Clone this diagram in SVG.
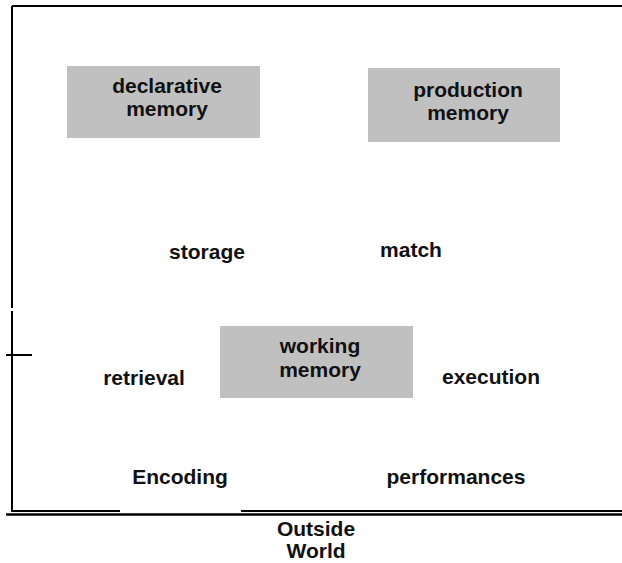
<svg xmlns="http://www.w3.org/2000/svg" width="622" height="563" viewBox="0 0 622 563">
<style>
.box{fill:#c0c0c0;stroke:none}
.t{font-family:"Liberation Sans",Arial,sans-serif;font-weight:bold;font-size:21px;fill:#111;text-anchor:middle}
.ln{stroke:#000;fill:none}
</style>
<rect width="622" height="563" fill="#fff"/>
<g id="frame">
<path class="ln" d="M12 6H622M12 6V308M12 311V511H120M241 511H622" stroke-width="2"/>
<path class="ln" d="M6 514.5H622" stroke-width="2.5"/>
<path class="ln" d="M6 355H32" stroke-width="2"/>
</g>
<g id="declarative">
<rect class="box" x="67" y="66" width="193" height="72"/>
<text class="t" x="167" y="93">declarative</text>
<text class="t" x="167" y="116">memory</text>
</g>
<g id="production">
<rect class="box" x="368" y="68" width="192" height="74"/>
<text class="t" x="468" y="97">production</text>
<text class="t" x="468" y="120">memory</text>
</g>
<g id="working">
<rect class="box" x="220" y="326" width="193" height="72"/>
<text class="t" x="320" y="353">working</text>
<text class="t" x="320" y="377">memory</text>
</g>
<g id="connectors">
<text class="t" x="207" y="259">storage</text>
<text class="t" x="411" y="257">match</text>
<text class="t" x="144" y="385">retrieval</text>
<text class="t" x="491" y="384">execution</text>
<text class="t" x="180" y="484">Encoding</text>
<text class="t" x="456" y="484">performances</text>
</g>
<g id="outside">
<text class="t" x="316" y="536">Outside</text>
<text class="t" x="316" y="558">World</text>
</g>
</svg>
